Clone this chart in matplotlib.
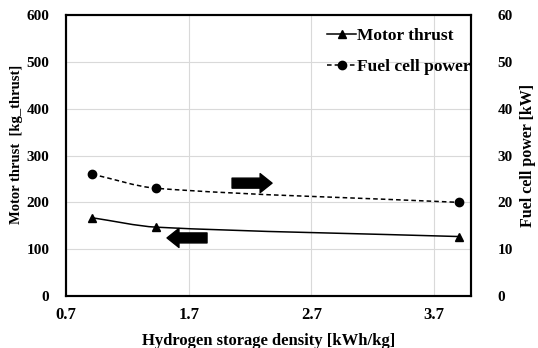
import matplotlib.pyplot as plt
import numpy as np
from matplotlib.path import Path
from matplotlib.patches import PathPatch
from matplotlib.lines import Line2D

plt.rcParams['font.family'] = ['Liberation Serif', 'DejaVu Serif']
plt.rcParams['font.weight'] = 'bold'
plt.rcParams['axes.labelweight'] = 'bold'

density = [0.915, 1.435, 3.9]
motor_thrust = [167, 147, 127]
fuel_cell_power = [26, 23, 20]
x_ticks = [0.7, 1.7, 2.7, 3.7]


def smooth_path(a, xs, ys, k=0.3):
    # smoothed line like a spreadsheet: Bezier segments built in screen space
    pts = a.transData.transform(np.column_stack([xs, ys]))
    n = len(pts)
    tang = []
    for i in range(n):
        d = pts[min(i + 1, n - 1)] - pts[max(i - 1, 0)]
        tang.append(d / np.hypot(*d))
    verts = [pts[0]]
    codes = [Path.MOVETO]
    for i in range(n - 1):
        seg = np.hypot(*(pts[i + 1] - pts[i]))
        verts += [pts[i] + tang[i] * seg * k, pts[i + 1] - tang[i + 1] * seg * k, pts[i + 1]]
        codes += [Path.CURVE4] * 3
    verts = a.transData.inverted().transform(np.array(verts))
    return Path(verts, codes)


fig = plt.figure(figsize=(5.38, 3.48), dpi=100)
ax = fig.add_axes([0.1227, 0.1494, 0.7528, 0.8075])
ax2 = ax.twinx()

ax.set_xlim(0.7, 4.0)
ax.set_ylim(0, 600)
ax2.set_ylim(0, 60)

ax.add_patch(PathPatch(smooth_path(ax, density, motor_thrust), fill=False,
                       edgecolor='black', lw=1.1))
ax.plot(density, motor_thrust, ls='none', marker='^', color='black', ms=6)
ax2.add_patch(PathPatch(smooth_path(ax2, density, fuel_cell_power), fill=False,
                        edgecolor='black', lw=1.1, linestyle=(0, (3, 2))))
ax2.plot(density, fuel_cell_power, ls='none', marker='o', color='black', ms=6)

ax.set_xticks(x_ticks)
ax.set_xticklabels([f'{v:.1f}' for v in x_ticks])
ax.set_yticks(range(0, 601, 100))
ax2.set_yticks(range(0, 61, 10))
ax.grid(True, color='#d9d9d9', lw=0.8)
ax.set_axisbelow(True)
for a in (ax, ax2):
    for s in a.spines.values():
        s.set_linewidth(1.5)
ax.tick_params(axis='y', length=0, labelsize=11, pad=12)
ax2.tick_params(axis='y', length=0, labelsize=11, pad=19)
ax.tick_params(axis='x', length=0, labelsize=12, pad=8)

ax.set_xlabel('Hydrogen storage density [kWh/kg]', fontsize=12, labelpad=7)
ax.set_ylabel('Motor thrust  [kg_thrust]', fontsize=10.5)
ax.yaxis.set_label_coords(-0.105, 0.54)
ax2.set_ylabel('Fuel cell power [kW]', fontsize=11.5)
ax2.yaxis.set_label_coords(1.12, 0.5)

# block arrows pointing to the matching axis
arrow = dict(arrowstyle='simple,head_length=0.86,head_width=1.37,tail_width=0.72',
             color='black', shrinkA=0, shrinkB=0, mutation_scale=10)
ax.annotate('', xy=(1.523, 124), xytext=(1.849, 124), arrowprops=arrow)
ax.annotate('', xy=(2.379, 241), xytext=(2.053, 241), arrowprops=arrow)

handles = [Line2D([], [], color='black', marker='^', ms=6, lw=1.1),
           Line2D([], [], color='black', marker='o', ms=6, lw=1.1, ls=(0, (3, 2)))]
ax.legend(handles, ['Motor thrust', 'Fuel cell power'], loc='upper left',
          bbox_to_anchor=(0.644, 0.954), frameon=False, fontsize=12.5,
          handlelength=1.7, handletextpad=0.05, borderaxespad=0, borderpad=0,
          labelspacing=0.85)

fig.savefig('out.png', dpi=100)
